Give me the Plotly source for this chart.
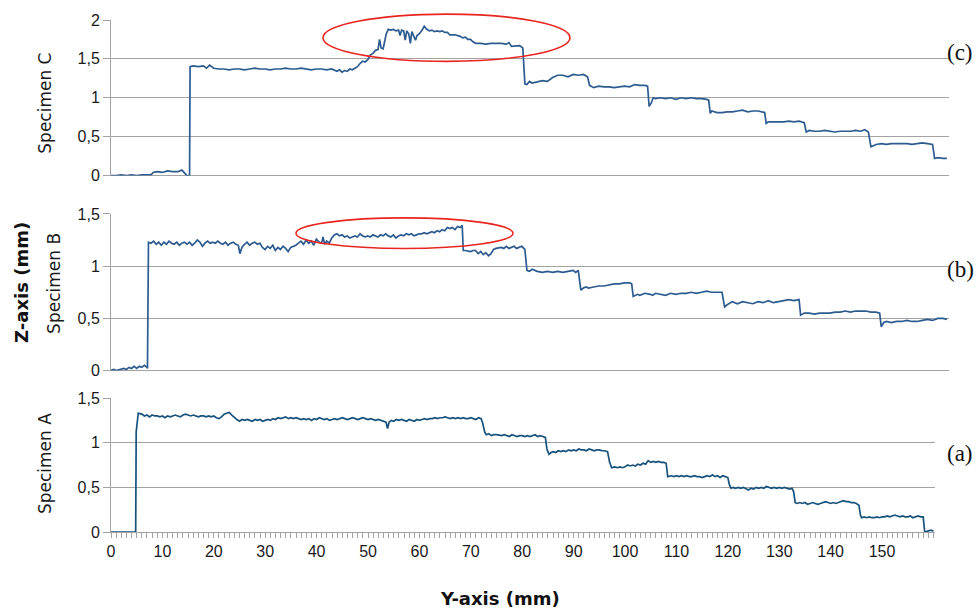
import plotly.graph_objects as go

# ---------------- data (Y-axis position mm, Z height mm) ----------------
specimen_c = [
    (0, 0.00), (1, 0.00), (2, 0.01), (3, 0.00), (4, 0.01), (5, 0.00), (6, 0.01), (7, 0.01),
    (7.8, 0.01), (8.2, 0.04), (9, 0.05), (10, 0.04), (11, 0.06), (12, 0.05), (13, 0.05),
    (13.8, 0.07), (14.4, 0.03), (14.8, 0.00), (15.3, 0.00), (15.4, 1.40), (16, 1.41),
    (17, 1.40), (18, 1.41), (18.6, 1.38), (19.2, 1.42), (20, 1.38), (21, 1.37), (22, 1.37),
    (23, 1.36), (24, 1.37), (25, 1.37), (26, 1.36), (27, 1.37), (28, 1.38), (29, 1.37),
    (30, 1.37), (31, 1.36), (32, 1.37), (33, 1.37), (34, 1.38), (35, 1.37), (36, 1.37),
    (37, 1.38), (38, 1.37), (39, 1.36), (40, 1.37), (41, 1.37), (42, 1.36), (43, 1.37),
    (44, 1.34), (44.5, 1.36), (45, 1.33), (45.5, 1.35), (46, 1.34), (46.5, 1.37), (47, 1.36),
    (47.5, 1.38), (48, 1.40), (48.5, 1.44), (49, 1.47), (49.5, 1.46), (50, 1.49), (50.5, 1.55),
    (51, 1.57), (51.5, 1.61), (52, 1.62), (52.3, 1.75), (52.6, 1.64), (53, 1.63), (53.3, 1.72),
    (53.6, 1.82), (54, 1.88), (54.5, 1.87), (55, 1.88), (55.5, 1.86), (56, 1.87), (56.3, 1.80),
    (56.6, 1.87), (57, 1.86), (57.3, 1.74), (57.6, 1.86), (58, 1.82), (58.3, 1.70), (58.6, 1.85),
    (59, 1.77), (59.3, 1.74), (59.6, 1.80), (60, 1.82), (60.5, 1.86), (61, 1.92), (61.5, 1.88),
    (62, 1.86), (62.5, 1.87), (63, 1.85), (63.5, 1.86), (64, 1.85), (64.5, 1.86), (65, 1.84),
    (65.5, 1.84), (66, 1.81), (67, 1.81), (68, 1.79), (68.5, 1.77), (69, 1.78), (69.5, 1.75),
    (70, 1.75), (70.5, 1.72), (71, 1.70), (72, 1.70), (73, 1.69), (74, 1.70), (75, 1.70),
    (76, 1.70), (77, 1.69), (77.5, 1.71), (78, 1.66), (79, 1.67), (79.6, 1.67), (80.2, 1.64),
    (80.6, 1.18), (81, 1.17), (81.5, 1.21), (82, 1.19), (83, 1.21), (84, 1.22), (85, 1.21),
    (85.5, 1.24), (86, 1.26), (87, 1.29), (88, 1.29), (89, 1.27), (90, 1.30), (91, 1.29),
    (92, 1.30), (92.8, 1.27), (93.2, 1.16), (94, 1.13), (95, 1.15), (96, 1.14), (97, 1.14),
    (98, 1.13), (99, 1.14), (100, 1.15), (101, 1.14), (102, 1.17), (103, 1.16), (104, 1.16),
    (104.5, 1.15), (104.8, 0.89), (105.2, 0.93), (105.6, 1.00), (106, 0.99), (107, 1.00),
    (108, 0.99), (109, 1.00), (110, 0.98), (111, 1.00), (112, 0.99), (113, 1.00), (114, 0.99),
    (115, 0.99), (116, 0.98), (116.4, 0.97), (116.7, 0.80), (117, 0.83), (118, 0.81), (119, 0.81),
    (120, 0.82), (121, 0.82), (122, 0.83), (123, 0.84), (124, 0.82), (125, 0.83), (126, 0.83),
    (127, 0.82), (127.3, 0.81), (127.6, 0.67), (128, 0.69), (129, 0.69), (130, 0.69), (131, 0.69),
    (132, 0.70), (133, 0.69), (134, 0.70), (135, 0.68), (135.4, 0.56), (136, 0.58), (137, 0.57),
    (138, 0.57), (139, 0.58), (140, 0.57), (141, 0.56), (142, 0.57), (143, 0.57), (144, 0.57),
    (145, 0.58), (146, 0.57), (146.8, 0.59), (147.5, 0.56), (148, 0.37), (148.6, 0.39),
    (149, 0.40), (150, 0.41), (151, 0.40), (152, 0.41), (153, 0.41), (154, 0.41), (155, 0.41),
    (156, 0.40), (157, 0.41), (158, 0.42), (159, 0.41), (160, 0.40), (160.4, 0.22), (161, 0.23),
    (162, 0.22), (162.8, 0.22),
]

specimen_b = [
    (0, 0.00), (0.5, 0.01), (1, 0.00), (2, 0.01), (2.5, 0.02), (3, 0.01), (3.5, 0.03), (4, 0.02),
    (4.5, 0.04), (5, 0.02), (5.5, 0.04), (6, 0.03), (6.5, 0.05), (7, 0.03), (7.1, 0.02),
    (7.3, 1.23), (7.8, 1.22), (8.3, 1.24), (8.8, 1.21), (9.3, 1.23), (9.8, 1.20), (10.3, 1.23),
    (10.8, 1.21), (11.3, 1.24), (11.8, 1.22), (12.3, 1.21), (12.8, 1.23), (13.3, 1.20),
    (13.8, 1.22), (14.3, 1.23), (14.8, 1.21), (15.3, 1.23), (15.8, 1.20), (16.3, 1.22),
    (16.8, 1.25), (17.3, 1.23), (17.8, 1.19), (18.3, 1.22), (18.8, 1.24), (19.3, 1.22),
    (19.8, 1.23), (20.3, 1.22), (20.8, 1.24), (21.3, 1.22), (21.8, 1.21), (22.3, 1.23),
    (22.8, 1.20), (23.3, 1.22), (23.8, 1.23), (24.3, 1.21), (24.8, 1.20), (25.1, 1.12),
    (25.5, 1.18), (26, 1.21), (26.5, 1.23), (27, 1.20), (27.5, 1.22), (28, 1.23), (28.5, 1.21),
    (29, 1.22), (29.5, 1.18), (30, 1.16), (30.5, 1.19), (31, 1.17), (31.5, 1.20), (32, 1.15),
    (32.5, 1.18), (33, 1.16), (33.5, 1.19), (34, 1.17), (34.5, 1.14), (35, 1.18), (35.5, 1.19),
    (36, 1.20), (36.5, 1.22), (37, 1.24), (37.5, 1.21), (38, 1.25), (38.5, 1.22), (39, 1.24),
    (39.5, 1.20), (40, 1.26), (40.5, 1.23), (41, 1.22), (41.3, 1.28), (41.6, 1.21), (42, 1.24),
    (42.5, 1.22), (43, 1.27), (43.5, 1.30), (44, 1.31), (44.5, 1.29), (45, 1.30), (45.5, 1.28),
    (46, 1.29), (46.5, 1.27), (47, 1.28), (47.5, 1.29), (48, 1.28), (48.5, 1.31), (49, 1.29),
    (49.5, 1.28), (50, 1.29), (50.5, 1.28), (51, 1.30), (51.5, 1.29), (52, 1.28), (52.5, 1.30),
    (53, 1.29), (53.5, 1.31), (54, 1.29), (54.5, 1.28), (55, 1.30), (55.5, 1.27), (56, 1.29),
    (56.5, 1.30), (57, 1.29), (57.5, 1.31), (58, 1.30), (58.5, 1.31), (59, 1.29), (59.5, 1.30),
    (60, 1.31), (60.5, 1.31), (61, 1.32), (61.5, 1.31), (62, 1.32), (62.5, 1.33), (63, 1.32),
    (63.5, 1.34), (64, 1.33), (64.5, 1.35), (65, 1.34), (65.5, 1.37), (66, 1.36), (66.5, 1.37),
    (67, 1.35), (67.5, 1.38), (68, 1.37), (68.4, 1.39), (68.6, 1.15), (69, 1.15), (70, 1.14),
    (70.5, 1.15), (71, 1.15), (71.5, 1.12), (72, 1.14), (72.5, 1.11), (73, 1.13), (73.5, 1.10),
    (74, 1.12), (74.5, 1.16), (75, 1.17), (76, 1.18), (76.5, 1.17), (77, 1.19), (77.5, 1.17),
    (78, 1.18), (78.5, 1.19), (79, 1.17), (79.5, 1.18), (80, 1.19), (80.6, 1.16), (81, 0.96),
    (81.5, 0.95), (82, 0.97), (83, 0.95), (84, 0.94), (85, 0.95), (86, 0.94), (87, 0.95),
    (88, 0.94), (89, 0.95), (90, 0.96), (90.5, 0.94), (91, 0.96), (91.5, 0.77), (92, 0.79),
    (92.5, 0.80), (93, 0.79), (94, 0.80), (95, 0.81), (96, 0.81), (97, 0.82), (98, 0.83),
    (99, 0.83), (100, 0.84), (101, 0.84), (101.4, 0.83), (101.7, 0.71), (102.5, 0.73),
    (103, 0.72), (104, 0.74), (105, 0.73), (105.5, 0.72), (106, 0.74), (107, 0.73), (108, 0.72),
    (109, 0.74), (110, 0.73), (111, 0.74), (112, 0.74), (113, 0.75), (114, 0.74), (115, 0.75),
    (116, 0.76), (117, 0.75), (118, 0.75), (119, 0.75), (119.5, 0.61), (120, 0.63), (121, 0.66),
    (122, 0.64), (123, 0.66), (124, 0.65), (125, 0.64), (126, 0.66), (127, 0.65), (128, 0.67),
    (129, 0.65), (130, 0.66), (131, 0.67), (132, 0.68), (133, 0.67), (134, 0.68), (134.3, 0.53),
    (135, 0.55), (136, 0.55), (137, 0.54), (138, 0.55), (139, 0.55), (140, 0.55), (141, 0.56),
    (142, 0.56), (143, 0.57), (144, 0.56), (145, 0.57), (146, 0.57), (147, 0.57), (148, 0.56),
    (149, 0.56), (149.7, 0.55), (150, 0.42), (150.5, 0.46), (151, 0.47), (152, 0.46), (153, 0.47),
    (154, 0.47), (155, 0.48), (156, 0.47), (157, 0.47), (158, 0.48), (159, 0.49), (160, 0.48),
    (161, 0.50), (162, 0.50), (162.8, 0.49),
]

specimen_a = [
    (0, 0.00), (1, 0.00), (2, 0.00), (3, 0.00), (4, 0.00), (4.8, 0.00), (4.9, 1.12), (5.3, 1.33),
    (6, 1.32), (6.5, 1.30), (7, 1.31), (7.5, 1.29), (8, 1.31), (8.5, 1.30), (9, 1.30), (9.5, 1.29),
    (10, 1.30), (10.5, 1.28), (11, 1.30), (11.5, 1.29), (12, 1.30), (12.5, 1.31), (13, 1.30),
    (13.5, 1.29), (14, 1.31), (14.5, 1.32), (15, 1.31), (15.5, 1.30), (16, 1.31), (16.5, 1.30),
    (17, 1.29), (17.5, 1.30), (18, 1.30), (18.5, 1.29), (19, 1.30), (19.5, 1.29), (20, 1.30),
    (20.5, 1.28), (21, 1.27), (21.5, 1.29), (22, 1.32), (22.5, 1.33), (23, 1.34), (23.5, 1.31),
    (24, 1.28), (24.5, 1.26), (25, 1.24), (25.5, 1.26), (26, 1.25), (26.5, 1.26), (27, 1.25),
    (27.5, 1.24), (28, 1.26), (28.5, 1.25), (29, 1.26), (29.5, 1.24), (30, 1.25), (30.5, 1.26),
    (31, 1.25), (31.5, 1.27), (32, 1.26), (32.5, 1.28), (33, 1.27), (33.5, 1.28), (34, 1.29),
    (34.5, 1.27), (35, 1.28), (35.5, 1.27), (36, 1.28), (36.5, 1.27), (37, 1.26), (37.5, 1.27),
    (38, 1.26), (38.5, 1.27), (39, 1.25), (39.5, 1.27), (40, 1.26), (40.5, 1.28), (41, 1.27),
    (41.5, 1.26), (42, 1.27), (42.5, 1.25), (43, 1.26), (43.5, 1.27), (44, 1.26), (44.5, 1.27),
    (45, 1.28), (45.5, 1.27), (46, 1.26), (46.5, 1.27), (47, 1.28), (47.5, 1.27), (48, 1.26),
    (48.5, 1.27), (49, 1.28), (49.5, 1.27), (50, 1.26), (50.5, 1.27), (51, 1.26), (51.5, 1.25),
    (52, 1.26), (52.5, 1.25), (53, 1.24), (53.5, 1.23), (53.8, 1.16), (54.1, 1.23), (54.5, 1.25),
    (55, 1.24), (55.5, 1.26), (56, 1.25), (56.5, 1.26), (57, 1.25), (57.5, 1.24), (58, 1.26),
    (58.5, 1.25), (59, 1.24), (59.5, 1.26), (60, 1.25), (60.5, 1.26), (61, 1.27), (61.5, 1.26),
    (62, 1.27), (62.5, 1.27), (63, 1.28), (63.5, 1.27), (64, 1.28), (64.5, 1.28), (65, 1.29),
    (65.5, 1.28), (66, 1.27), (66.5, 1.28), (67, 1.27), (67.5, 1.28), (68, 1.27), (68.5, 1.28),
    (69, 1.27), (69.5, 1.27), (70, 1.28), (70.5, 1.27), (71, 1.26), (71.5, 1.28), (72, 1.27),
    (72.3, 1.22), (72.7, 1.12), (73, 1.09), (73.5, 1.10), (74, 1.08), (74.5, 1.09), (75, 1.09),
    (76, 1.08), (76.5, 1.09), (77, 1.08), (77.5, 1.07), (78, 1.09), (78.5, 1.08), (79, 1.07),
    (79.5, 1.08), (80, 1.08), (80.5, 1.07), (81, 1.08), (81.5, 1.07), (82, 1.08), (82.5, 1.09),
    (83, 1.07), (83.5, 1.08), (84, 1.07), (84.5, 1.06), (84.8, 0.93), (85.2, 0.87), (85.6, 0.89),
    (86, 0.90), (86.5, 0.89), (87, 0.91), (87.5, 0.90), (88, 0.91), (88.5, 0.90), (89, 0.92),
    (89.5, 0.91), (90, 0.92), (90.5, 0.91), (91, 0.93), (91.5, 0.92), (92, 0.92), (92.5, 0.91),
    (93, 0.93), (93.5, 0.92), (94, 0.91), (94.5, 0.92), (95, 0.92), (95.5, 0.91), (96, 0.91),
    (96.6, 0.90), (97, 0.78), (97.4, 0.72), (98, 0.73), (98.5, 0.72), (99, 0.73), (99.5, 0.72),
    (100, 0.73), (100.5, 0.75), (101, 0.74), (101.5, 0.75), (102, 0.74), (102.5, 0.76),
    (103, 0.75), (103.5, 0.77), (104, 0.76), (104.5, 0.80), (105, 0.78), (105.5, 0.79),
    (106, 0.78), (106.5, 0.79), (107, 0.78), (107.5, 0.78), (108, 0.77), (108.3, 0.62),
    (109, 0.63), (109.5, 0.62), (110, 0.63), (110.5, 0.62), (111, 0.63), (111.5, 0.62),
    (112, 0.63), (112.5, 0.62), (113, 0.62), (113.5, 0.63), (114, 0.62), (114.5, 0.62),
    (115, 0.61), (115.5, 0.62), (116, 0.63), (116.5, 0.62), (117, 0.64), (117.5, 0.62),
    (118, 0.63), (118.5, 0.61), (119, 0.63), (119.5, 0.62), (120, 0.61), (120.3, 0.53),
    (120.6, 0.49), (121, 0.50), (121.5, 0.49), (122, 0.50), (122.5, 0.49), (123, 0.50),
    (123.5, 0.48), (124, 0.47), (124.5, 0.49), (125, 0.48), (125.5, 0.50), (126, 0.49),
    (126.5, 0.50), (127, 0.49), (127.5, 0.51), (128, 0.50), (128.5, 0.49), (129, 0.50),
    (129.5, 0.49), (130, 0.50), (130.5, 0.49), (131, 0.50), (131.5, 0.49), (132, 0.48),
    (132.5, 0.49), (132.8, 0.45), (133.1, 0.33), (133.5, 0.32), (134, 0.33), (134.5, 0.32),
    (135, 0.33), (135.5, 0.31), (136, 0.32), (136.5, 0.33), (137, 0.32), (137.5, 0.31),
    (138, 0.32), (138.5, 0.33), (139, 0.34), (139.5, 0.33), (140, 0.32), (140.5, 0.33),
    (141, 0.32), (141.5, 0.33), (142, 0.34), (142.5, 0.35), (143, 0.34), (143.5, 0.34),
    (144, 0.33), (144.5, 0.33), (145, 0.32), (145.5, 0.30), (145.8, 0.19), (146, 0.16),
    (146.5, 0.17), (147, 0.16), (147.5, 0.17), (148, 0.16), (148.5, 0.16), (149, 0.17),
    (149.5, 0.16), (150, 0.17), (150.5, 0.17), (151, 0.18), (151.5, 0.17), (152, 0.18),
    (152.5, 0.19), (153, 0.18), (153.5, 0.17), (154, 0.18), (154.5, 0.17), (155, 0.17),
    (155.5, 0.18), (156, 0.16), (156.5, 0.17), (157, 0.18), (157.5, 0.17), (158, 0.17),
    (158.3, 0.00), (159, 0.01), (159.5, 0.02), (160, 0.01),
]

x_ticks = list(range(0, 160, 10))
z_ticks_ab = [0, 0.5, 1, 1.5]
z_ticks_c = [0, 0.5, 1, 1.5, 2]
panel_labels = ["(c)", "(b)", "(a)"]
specimen_names = ["Specimen C", "Specimen B", "Specimen A"]

xa, za = zip(*specimen_a)
xb, zb = zip(*specimen_b)
xc, zc = zip(*specimen_c)

# ---------------- layout geometry ----------------
W, H = 979, 613
ML, MR, MT, MB = 111, 30, 12, 81
PW, PH = W - ML - MR, H - MT - MB


def px_x(px):
    return (px - ML) / PW


def px_y(py):
    return (H - MB - py) / PH


GRID = "#a3a3a3"
TICKFONT = dict(family="Liberation Sans, Arial, sans-serif", size=16, color="#1a1a1a")

fig = go.Figure()
fig.add_trace(go.Scatter(x=xa, y=za, mode="lines", line=dict(color="#17527d", width=1.7),
                         xaxis="x", yaxis="y", showlegend=False))
fig.add_trace(go.Scatter(x=xb, y=zb, mode="lines", line=dict(color="#2c5b90", width=1.7),
                         xaxis="x2", yaxis="y2", showlegend=False))
fig.add_trace(go.Scatter(x=xc, y=zc, mode="lines", line=dict(color="#2c5b90", width=1.7),
                         xaxis="x3", yaxis="y3", showlegend=False))

yaxis_common = dict(showgrid=True, gridcolor=GRID, gridwidth=1, showline=True, linecolor=GRID,
                    linewidth=1, ticks="outside", ticklen=7, tickcolor=GRID, tickfont=TICKFONT,
                    zeroline=True, zerolinecolor=GRID, zerolinewidth=1, fixedrange=True)
xaxis_hidden = dict(range=[0, 163.2], showgrid=False, showline=False, zeroline=False,
                    showticklabels=False, ticks="", fixedrange=True)

fig.update_layout(
    width=W, height=H,
    margin=dict(l=ML, r=MR, t=MT, b=MB),
    paper_bgcolor="white", plot_bgcolor="white",
    separators=",.",
    xaxis=dict(domain=[0, px_x(935)], range=[0, 160.3], anchor="y",
               tickvals=x_ticks, ticks="outside", ticklen=5, tickcolor=GRID,
               minor=dict(dtick=1, tick0=0, ticks="outside", ticklen=5, tickcolor=GRID, showgrid=False),
               showline=True, linecolor=GRID, showgrid=False, zeroline=False,
               tickfont=TICKFONT, fixedrange=True),
    yaxis=dict(domain=[0, px_y(396)], range=[0, 1.5], tickvals=z_ticks_ab, anchor="x", **yaxis_common),
    xaxis2=dict(domain=[0, 1], anchor="y2", **xaxis_hidden),
    yaxis2=dict(domain=[px_y(368), px_y(209)], range=[0, 1.5], tickvals=z_ticks_ab, anchor="x2",
                **yaxis_common),
    xaxis3=dict(domain=[0, 1], anchor="y3", **xaxis_hidden),
    yaxis3=dict(domain=[px_y(170), px_y(12)], range=[0, 2], tickvals=z_ticks_c, anchor="x3",
                **yaxis_common),
)

annos = []
sans = "DejaVu Sans, Verdana, sans-serif"
for name, cx, cy in zip(specimen_names, [45, 54, 45], [97, 280, 463]):
    annos.append(dict(text=name, x=px_x(cx), y=px_y(cy), xref="paper", yref="paper",
                      showarrow=False, textangle=-90, xanchor="center", yanchor="middle",
                      font=dict(family=sans, size=17, color="#1a1a1a")))
annos.append(dict(text="<b>Z-axis (mm)</b>", x=px_x(22), y=px_y(279), xref="paper", yref="paper",
                  showarrow=False, textangle=-90, xanchor="center", yanchor="middle",
                  font=dict(family=sans, size=18, color="#111111")))
annos.append(dict(text="<b>Y-axis (mm)</b>", x=px_x(500), y=px_y(600), xref="paper", yref="paper",
                  showarrow=False, xanchor="center", yanchor="middle",
                  font=dict(family=sans, size=18, color="#111111")))
for lab, cy in zip(panel_labels, [45, 265, 452]):
    annos.append(dict(text=lab, x=px_x(960), y=px_y(cy), xref="paper", yref="paper",
                      showarrow=False, xanchor="center", yanchor="middle",
                      font=dict(family="Liberation Serif, Times New Roman, serif", size=23, color="#111111")))
fig.update_layout(annotations=annos)

# red highlight ellipses
for x0, x1, y0, y1 in [(323, 570, 6, 54), (296, 513, 213, 244)]:
    fig.add_shape(type="circle", xref="paper", yref="paper",
                  x0=px_x(x0), x1=px_x(x1), y0=px_y(y1), y1=px_y(y0),
                  line=dict(color="#e8251f", width=1.6), fillcolor="rgba(0,0,0,0)", layer="above")

fig.write_html("out.html")
